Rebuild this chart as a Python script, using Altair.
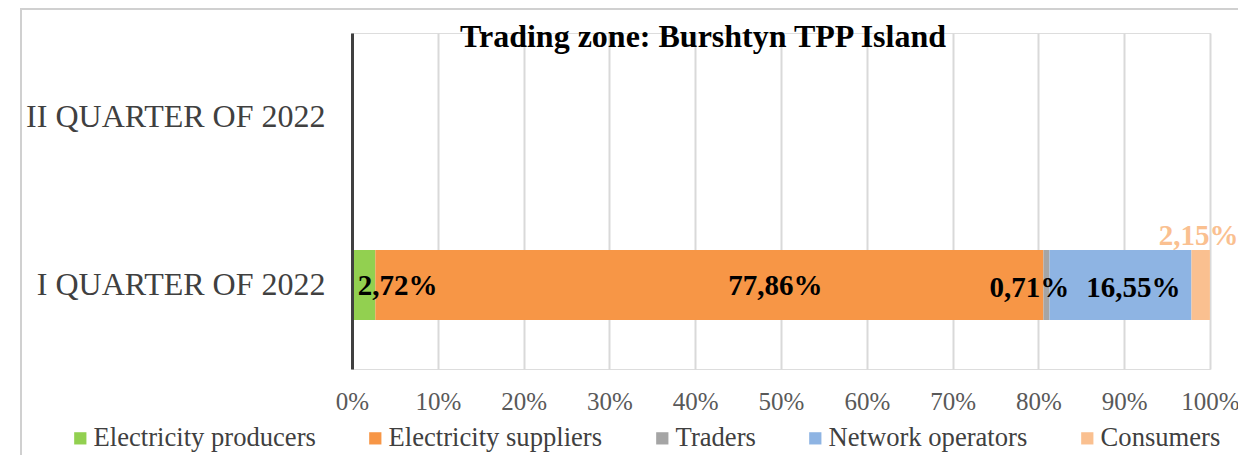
import altair as alt
import pandas as pd

title_text = "Trading zone: Burshtyn TPP Island"
categories = ["II QUARTER OF 2022", "I QUARTER OF 2022"]
series = ["Electricity producers", "Electricity suppliers", "Traders",
          "Network operators", "Consumers"]
q1_values = [2.72, 77.86, 0.71, 16.55, 2.15]
colors = ["#92D050", "#F79646", "#A5A5A5", "#8EB4E3", "#FAC090"]
x_ticks = [0, 10, 20, 30, 40, 50, 60, 70, 80, 90, 100]

rows = []
cum = 0.0
for i, (s, v) in enumerate(zip(series, q1_values)):
    rows.append({
        "category": categories[1], "series": s, "order": i, "value": v,
        "start": cum, "end": cum + v, "mid": cum + v / 2,
        "label": f"{v:.2f}".replace(".", ",") + "%",
    })
    cum += v
df = pd.DataFrame(rows)

FONT = "Liberation Serif"

y_enc = alt.Y("category:N", sort=categories, title=None,
              scale=alt.Scale(domain=categories, paddingInner=0.583, paddingOuter=0.2915),
              axis=alt.Axis(labelFont=FONT, labelFontSize=32, labelColor="#404040",
                            labelPadding=27, ticks=False, domainColor="#404040",
                            domainWidth=3, grid=False, zindex=1, labelLimit=400))

base = alt.Chart(df)

bars = base.mark_bar(size=70).encode(
    x=alt.X("start:Q", title=None,
            scale=alt.Scale(domain=[0, 100], nice=False),
            axis=alt.Axis(values=x_ticks, labelExpr="datum.value + '%'",
                          labelFont=FONT, labelFontSize=25, labelColor="#595959",
                          labelPadding=20, labelFlush=False, ticks=False, domain=False,
                          grid=True, gridColor="#d9d9d9", gridWidth=2)),
    x2="end:Q",
    y=y_enc,
    color=alt.Color("series:N", sort=series,
                    scale=alt.Scale(domain=series, range=colors),
                    legend=alt.Legend(title=None, orient="none", direction="horizontal",
                                      legendX=-285, legendY=392,
                                      labelFont=FONT, labelFontSize=26.6,
                                      labelColor="#404040", symbolType="square",
                                      symbolSize=150, symbolStrokeWidth=0,
                                      labelOffset=0, columnPadding=46,
                                      labelLimit=400)),
    order=alt.Order("order:Q"),
)

label_style = {
    "Electricity producers": {"dx": 34, "dy": 1, "color": "black"},
    "Electricity suppliers": {"dx": 66, "dy": 1, "color": "black"},
    "Traders": {"dx": -17, "dy": 3, "color": "black"},
    "Network operators": {"dx": 13, "dy": 3, "color": "black"},
    "Consumers": {"dx": -2, "dy": -49, "color": "#FAC090"},
}

layers = [bars]
for s in series:
    st = label_style[s]
    layers.append(
        base.transform_filter(alt.datum.series == s).mark_text(
            font=FONT, fontSize=29, fontWeight="bold", color=st["color"],
            dx=st["dx"], dy=st["dy"], baseline="middle", align="center"
        ).encode(x="mid:Q", y=alt.Y("category:N", sort=categories), text="label:N")
    )

one = pd.DataFrame({"a": [0]})

# chart title, drawn over the top of the plot area as in the reference
title_mark = alt.Chart(one).mark_text(
    font=FONT, fontSize=32, fontWeight="bold", color="black",
    align="center", baseline="alphabetic"
).encode(x=alt.value(351), y=alt.value(14), text=alt.value(title_text))

# chart-area frame (left and top edges)
frame_left = alt.Chart(one).mark_rule(color="#d0d0d0", strokeWidth=2).encode(
    x=alt.value(-331), y=alt.value(-26), y2=alt.value(440))
frame_top = alt.Chart(one).mark_rule(color="#d0d0d0", strokeWidth=2).encode(
    x=alt.value(-332), x2=alt.value(900), y=alt.value(-24))
layers += [frame_left, frame_top, title_mark]

chart = alt.layer(*layers).properties(
    width=858, height=336,
    padding={"left": 344, "top": 25, "right": 28, "bottom": 86},
    autosize=alt.AutoSizeParams(type="none"),
).configure_view(stroke=None).configure(background="white")

chart.save("out.html", embed_options={"renderer": "svg", "actions": False})
